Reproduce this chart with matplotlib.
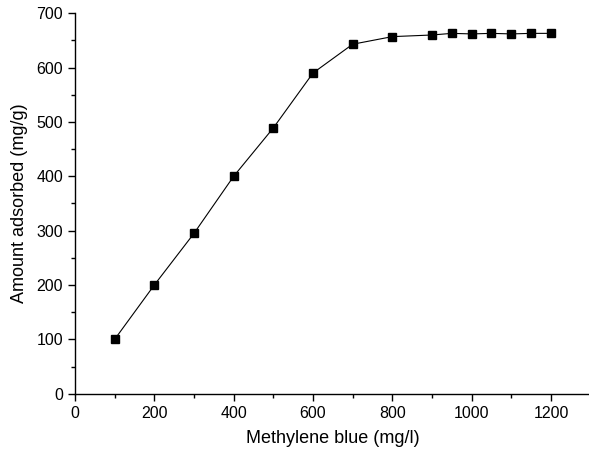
import matplotlib
matplotlib.use("Agg")
import matplotlib.pyplot as plt
import matplotlib.ticker as mticker

# concentration (mg/l) and amount adsorbed (mg/g)
concentration = [100, 200, 300, 400, 500, 600, 700, 800, 900, 950, 1000, 1050, 1100, 1150, 1200]
adsorbed = [100, 200, 295, 400, 489, 590, 643, 657, 660, 663, 662, 663, 662, 663, 663]

plt.rcParams['font.family'] = ['Liberation Sans', 'DejaVu Sans']
plt.rcParams['font.size'] = 10

fig = plt.figure(figsize=(5.89, 4.54), dpi=100)
ax = fig.add_axes([0.1273, 0.1328, 0.8755, 0.838])

ax.plot(concentration, adsorbed, color='black', linewidth=0.8,
        marker='s', markersize=5.5, markerfacecolor='black', markeredgecolor='black')

ax.set_xlim(0, 1300)
ax.set_ylim(0, 700)
ax.xaxis.set_major_locator(mticker.MultipleLocator(200))
ax.xaxis.set_minor_locator(mticker.MultipleLocator(100))
ax.yaxis.set_major_locator(mticker.MultipleLocator(100))
ax.yaxis.set_minor_locator(mticker.MultipleLocator(50))
ax.set_xticks([0, 200, 400, 600, 800, 1000, 1200])

ax.spines['top'].set_visible(False)
ax.spines['right'].set_visible(False)
for s in ('left', 'bottom'):
    ax.spines[s].set_linewidth(1.0)
ax.tick_params(which='major', direction='out', length=5, width=1, labelsize=11.5)
ax.tick_params(which='minor', direction='out', length=3, width=1)

ax.set_xlabel('Methylene blue (mg/l)', fontsize=13, labelpad=7)
ax.set_ylabel('Amount adsorbed (mg/g)', fontsize=13, labelpad=6)

fig.savefig('out.png', dpi=100)
